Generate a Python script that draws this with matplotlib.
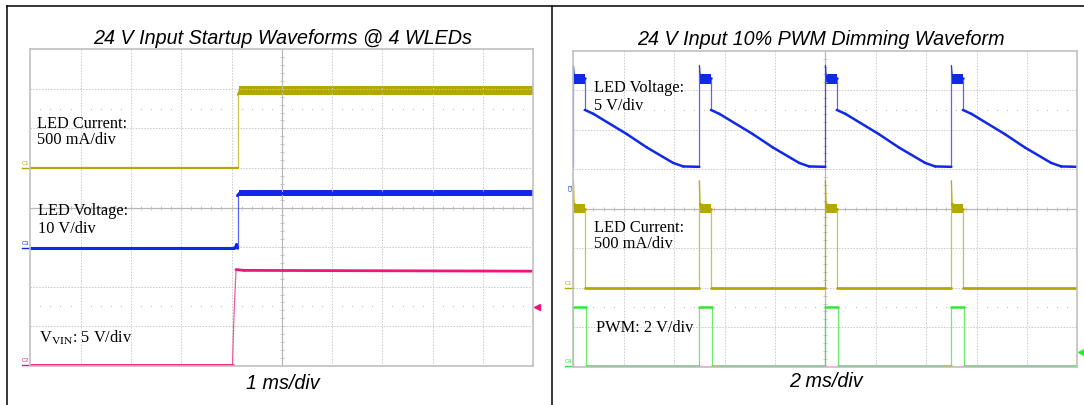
import numpy as np
import matplotlib.pyplot as plt
from matplotlib.lines import Line2D
from matplotlib.collections import LineCollection

W, H = 1084, 406

# ---- left: 24 V startup, 1 ms/div, y in screen divisions (0..8)
iled_start_t = [0.0, 4.13, 4.13, 4.16, 10.0]
iled_start_y = [5.0, 5.0, 6.85, 6.95, 6.95]
iled_start_band = ([4.15, 10.0], [6.85, 6.85], [7.07, 7.07])

vled_start_t = [0.0, 4.05, 4.08, 4.10, 4.12, 4.12, 4.16, 10.0]
vled_start_y = [2.97, 2.97, 2.99, 3.06, 2.97, 4.30, 4.36, 4.36]
vled_start_band = ([4.14, 10.0], [4.29, 4.29], [4.43, 4.43])

vin_t = [0.0, 4.02, 4.05, 4.09, 4.25, 10.0]
vin_y = [0.02, 0.02, 1.30, 2.43, 2.41, 2.39]

# ---- right: 10% PWM dimming, 2 ms/div, one period (ms) repeated at pulse starts
pulse_starts = [0.0, 5.0, 10.0, 15.0]

vled_pwm_t = [0.0, 0.0, 0.06, 0.46, 0.46, 0.80, 2.12, 2.92, 3.96, 4.36, 5.0]
vled_pwm_y = [5.06, 7.64, 7.30, 7.30, 6.50, 6.40, 5.89, 5.55, 5.16, 5.07, 5.06]
vled_pwm_band = ([0.02, 0.46], [7.16, 7.16], [7.41, 7.41])

iled_pwm_t = [0.0, 0.0, 0.04, 0.10, 0.46, 0.46, 5.0]
iled_pwm_y = [2.0, 4.72, 4.12, 4.0, 4.0, 2.0, 2.0]
iled_pwm_band = ([0.02, 0.46], [3.89, 3.89], [4.11, 4.11])

pwm_t = [0.0, 0.0, 0.5, 0.5, 5.0]
pwm_y = [0.02, 1.50, 1.50, 0.02, 0.02]

YEL = '#b2a800'
BLU = '#1028e8'
PNK = '#f0147c'
GRN = '#2ee82e'
GRID = '#cacaca'


def px(x, y):
    return x / W, 1 - y / H


def periodic(t, y, starts):
    tt = np.concatenate([np.asarray(t) + s for s in starts])
    yy = np.concatenate([np.asarray(y) for s in starts])
    return tt, yy


def trace(ax, t, y, color, lw, per_div):
    pts = np.column_stack([t, y])
    segs = np.stack([pts[:-1], pts[1:]], axis=1)
    steep = np.abs(np.diff(y)) > 8 * np.abs(np.diff(t)) / per_div
    ax.add_collection(LineCollection(segs[steep], colors=color, linewidths=0.9, alpha=0.7))
    ax.add_collection(LineCollection(segs[~steep], colors=color, linewidths=lw,
                                     capstyle='round', joinstyle='round'))


def band(ax, b, color, starts=(0.0,)):
    for s in starts:
        ax.fill_between(np.asarray(b[0]) + s, b[1], b[2], color=color, lw=0)


def screen(ax, per_div):
    ax.set_xlim(0, 10 * per_div)
    ax.set_ylim(0, 8)
    ax.set_xticks([])
    ax.set_yticks([])
    for sp in ax.spines.values():
        sp.set_color('#c0c0c0')
        sp.set_linewidth(1.2)
    for i in range(1, 10):
        if i == 5:
            ax.axvline(i * per_div, color='#b8b8b8', lw=0.9)
        else:
            ax.axvline(i * per_div, color=GRID, lw=0.7, ls=(0, (1.5, 1.5)))
    for j in range(1, 8):
        if j == 4:
            ax.axhline(j, color='#b8b8b8', lw=0.9)
        else:
            ax.axhline(j, color=GRID, lw=0.7, ls=(0, (1.5, 1.5)))
    xs = np.arange(0.2, 10, 0.2)
    ys = np.arange(0.2, 8, 0.2)
    ax.plot(xs * per_div, np.full_like(xs, 4.0), ls='none', marker='|', ms=3,
            mew=0.6, color='#bcbcbc')
    ax.plot(np.full_like(ys, 5.0 * per_div), ys, ls='none', marker='_', ms=3,
            mew=0.6, color='#bcbcbc')
    dots = xs[np.abs(xs - np.round(xs)) > 0.05]
    for yv in (1.5, 6.5):
        ax.plot(dots * per_div, np.full_like(dots, yv), ls='none', marker='s', ms=0.6,
                mew=0, color='#b4b4b4')


plt.rcParams['font.family'] = ['Liberation Sans', 'DejaVu Sans']
plt.rcParams['mathtext.fontset'] = 'stix'

fig = plt.figure(figsize=(W / 100, H / 100), dpi=100)

axL = fig.add_axes([30.3 / W, 1 - 366.7 / H, 503 / W, 316.4 / H])
axR = fig.add_axes([573.3 / W, 1 - 367.7 / H, 504 / W, 316 / H])
screen(axL, 1.0)
screen(axR, 2.0)

# left traces
band(axL, iled_start_band, YEL)
trace(axL, iled_start_t, iled_start_y, YEL, 1.6, 1.0)
band(axL, vled_start_band, BLU)
trace(axL, vled_start_t, vled_start_y, BLU, 2.2, 1.0)
trace(axL, vin_t, vin_y, PNK, 2.0, 1.0)

# right traces
t, y = periodic(vled_pwm_t, vled_pwm_y, pulse_starts)
band(axR, vled_pwm_band, BLU, pulse_starts)
trace(axR, t, y, BLU, 1.8, 2.0)
t, y = periodic(iled_pwm_t, iled_pwm_y, pulse_starts)
band(axR, iled_pwm_band, YEL, pulse_starts)
trace(axR, t, y, YEL, 2.0, 2.0)
t, y = periodic(pwm_t, pwm_y, pulse_starts)
trace(axR, t, y, GRN, 1.8, 2.0)

# trigger markers
axL.plot([10.07], [1.48], marker='<', ms=4, color=PNK, clip_on=False)
axR.plot([20.14], [0.38], marker='<', ms=4, color=GRN, clip_on=False)

# ground markers
for ax, lab, yv, c in [(axL, 'C1', 5.0, YEL), (axL, 'C3', 2.97, BLU), (axL, 'C2', 0.02, PNK),
                       (axR, 'C1', 2.0, YEL), (axR, 'C4', 0.02, GRN)]:
    ax.plot([-0.16 * ax.get_xlim()[1] / 10, 0], [yv, yv], color=c, lw=1.0, clip_on=False)
    ax.text(-0.1 * ax.get_xlim()[1] / 10, yv + 0.08, lab, color=c, fontsize=4.2,
            ha='center', va='bottom', clip_on=False)
axR.text(-0.1, 4.56, 'C3', color=BLU, fontsize=4.2, rotation=90, ha='center', va='center',
         clip_on=False)

# titles and time base
big = dict(ha='center', va='baseline', fontsize=14.2, style='italic')
fig.text(*px(283, 44.3), '24 V Input Startup Waveforms @ 4 WLEDs', **big)
fig.text(*px(821, 45), '24 V Input 10% PWM Dimming Waveform', **big)
fig.text(*px(283, 389), '1 ms/div', **big)
fig.text(*px(826, 387), '2 ms/div', **big)

# channel notes
serif = dict(fontsize=11.8, family='Liberation Serif', va='baseline', ha='left')
fig.text(*px(37, 127.7), 'LED Current:', **serif)
fig.text(*px(37, 144.3), '500 mA/div', **serif)
fig.text(*px(38, 215), 'LED Voltage:', **serif)
fig.text(*px(38, 232.7), '10 V/div', **serif)
fig.text(*px(39, 343.3), r'V$_{\mathrm{VIN}}$: 5 V/div', **serif)
fig.text(*px(594.5, 91.7), 'LED Voltage:', **serif)
fig.text(*px(594.5, 110), '5 V/div', **serif)
fig.text(*px(594.5, 231.7), 'LED Current:', **serif)
fig.text(*px(594.5, 248.3), '500 mA/div', **serif)
fig.text(*px(595.5, 331.7), 'PWM: 2 V/div', **serif)

# outer frame
for xs_, ys_ in [([7, W], [7, 7]), ([7, 7], [7, H]), ([551.7, 551.7], [7, H])]:
    fig.add_artist(Line2D(np.array(xs_) / W, 1 - np.array(ys_) / H, color='black', lw=1.1,
                          transform=fig.transFigure))

fig.savefig('out.png', dpi=100)
